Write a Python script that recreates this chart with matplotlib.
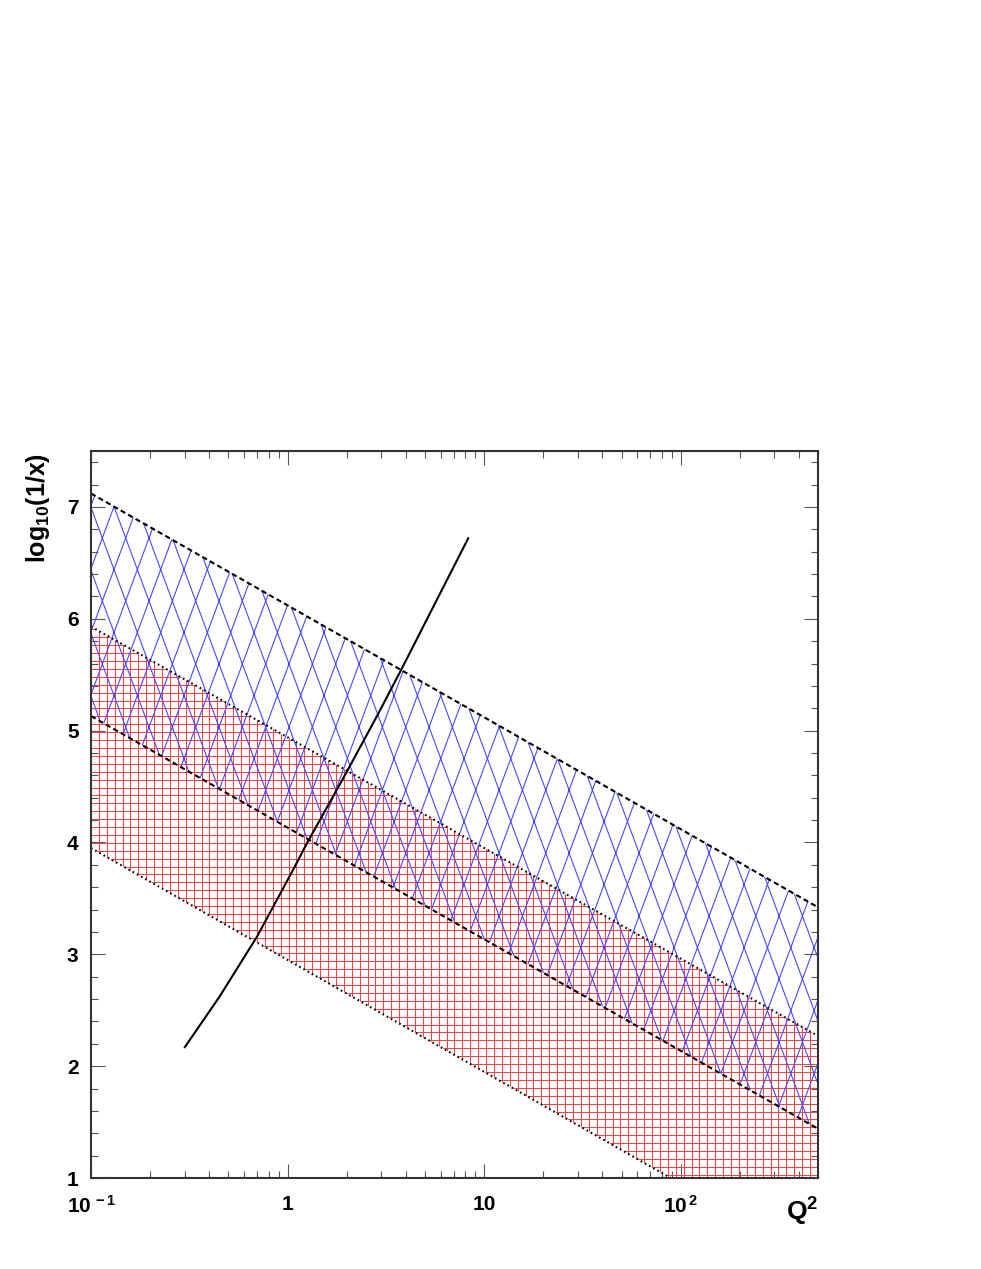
import numpy as np
import matplotlib
matplotlib.use('Agg')
import matplotlib.pyplot as plt
from matplotlib.ticker import FixedLocator, FuncFormatter, MultipleLocator

plt.rcParams['font.family'] = ['Liberation Sans', 'DejaVu Sans']
plt.rcParams['font.weight'] = 'bold'
plt.rcParams['mathtext.fontset'] = 'custom'
plt.rcParams['mathtext.rm'] = 'Liberation Sans:bold'
plt.rcParams['mathtext.it'] = 'Liberation Sans:bold'
plt.rcParams['mathtext.bf'] = 'Liberation Sans:bold'

# boundary lines, log10(1/x) at the two ends of the Q2 range
q2_ends = [0.1, 500]
dashed_upper = [7.12, 3.42]
dotted_upper = [5.93, 2.27]
dashed_lower = [5.13, 1.44]
dotted_lower = [3.95, 0.25]

# solid curve
curve_q2 = [0.30, 0.45, 0.70, 1.07, 1.27, 1.90, 2.85, 3.80, 8.30]
curve_y = [2.17, 2.62, 3.16, 3.76, 4.01, 4.56, 5.13, 5.55, 6.72]

xtick_vals = [0.1, 1, 10, 100]
xtick_labels = ['$10^{\\,-1}$', '1', '10', '$10^{\\,2}$']
ytick_vals = [1, 2, 3, 4, 5, 6, 7]

fig = plt.figure(figsize=(9.81, 12.69), dpi=100)
ax = fig.add_axes([0.0928, 0.0717, 0.7411, 0.5729])
ax.set_xscale('log')
ax.set_xlim(0.1, 500)
ax.set_ylim(1, 7.5)


def hatch(region, segs, color, lw, aa=True):
    # one Line2D, segments split by nan, clipped to the band
    xs, ys = [], []
    for (x0, y0), (x1, y1) in segs:
        xs += [x0, x1, np.nan]
        ys += [y0, y1, np.nan]
    ln, = ax.plot(xs, ys, color=color, lw=lw, transform=ax.transAxes,
                  scalex=False, scaley=False, antialiased=aa)
    ln.set_clip_path(region.get_paths()[0], ax.transData)


# red square grid between the dotted lines
red_region = ax.fill_between(q2_ends, dotted_lower, dotted_upper,
                             facecolor='none', edgecolor='none')
step = 0.01087
gx = np.arange(0.0216 - 2 * step, 1.0 + step, step)
gy = np.arange(0.5154 - 48 * step, 1.0 + step, step)
segs = [[(x, 0), (x, 1)] for x in gx] + [[(0, y), (1, y)] for y in gy]
hatch(red_region, segs, '#ff4040', 0.72, aa=False)

# blue diamond hatching between the dashed lines
blue_region = ax.fill_between(q2_ends, dashed_lower, dashed_upper,
                              facecolor='none', edgecolor='none')
s = 2.7
d = 0.0321
x_pos = np.arange(0.2673 - 20 * d, 1.0 + d, d)
x_neg = np.arange(0.6947 - 25 * d, 1.0 + 1 / s + d, d)
segs = [[(x0, 0), (x0 + 1 / s, 1)] for x0 in x_pos]
segs += [[(x0, 0), (x0 - 1 / s, 1)] for x0 in x_neg]
hatch(blue_region, segs, '#4848ff', 0.8)

ax.plot(q2_ends, dashed_upper, color='black', lw=1.5, dashes=(2.5, 1.6))
ax.plot(q2_ends, dashed_lower, color='black', lw=1.5, dashes=(2.5, 1.6))
ax.plot(q2_ends, dotted_upper, color='black', lw=1.5, dashes=(0.8, 1.5))
ax.plot(q2_ends, dotted_lower, color='black', lw=1.5, dashes=(0.8, 1.5))
ax.plot(curve_q2, curve_y, color='black', lw=1.5)

for sp in ax.spines.values():
    sp.set_linewidth(1.5)
    sp.set_color('#333333')

ax.xaxis.set_major_locator(FixedLocator(xtick_vals))
ax.xaxis.set_major_formatter(FuncFormatter(
    lambda v, p: xtick_labels[xtick_vals.index(v)] if v in xtick_vals else ''))
ax.xaxis.set_minor_locator(matplotlib.ticker.LogLocator(base=10, subs=np.arange(2, 10)))
ax.xaxis.set_minor_formatter(matplotlib.ticker.NullFormatter())
ax.yaxis.set_major_locator(FixedLocator(ytick_vals))
ax.yaxis.set_minor_locator(MultipleLocator(0.2))

ax.tick_params(which='both', direction='in', top=True, right=True,
               color='#555555', width=0.8, labelsize=15)
ax.tick_params(which='major', length=10)
ax.tick_params(which='minor', length=5)
ax.tick_params(axis='x', which='major', pad=12)
ax.tick_params(axis='y', which='major', pad=9)

ax.text(1.0, -0.024, 'Q$^2$', transform=ax.transAxes, ha='right', va='top',
        fontsize=19, fontweight='bold')
ax.text(-0.073, 0.998, 'log$_{10}$(1/x)', transform=ax.transAxes, rotation=90,
        ha='center', va='top', fontsize=18, fontweight='bold')

fig.savefig('out.png', dpi=100)
